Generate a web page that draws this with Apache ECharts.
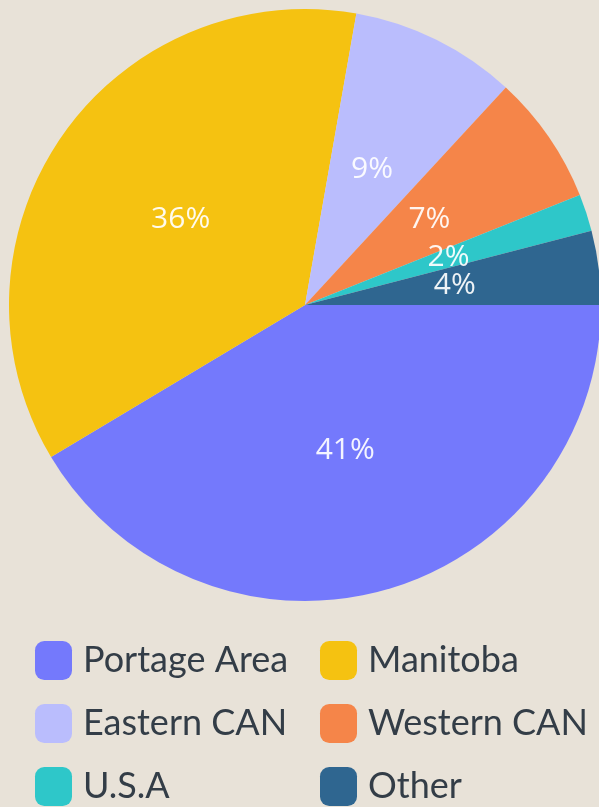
<!DOCTYPE html>
<html>
<head>
<meta charset="utf-8">
<style>
  html, body { margin: 0; padding: 0; background: #e8e2d8; }
  #chart { width: 599px; height: 807px; }
</style>
<script src="https://cdn.jsdelivr.net/npm/echarts@6/dist/echarts.min.js"></script>
</head>
<body>
<div id="chart"></div>
<script>
// 各地区占比
var regions = ['Portage Area', 'Manitoba', 'Eastern CAN', 'Western CAN', 'U.S.A', 'Other'];
var shares = [41, 36, 9, 7, 2, 4];
var colors = ['#7479fc', '#f5c211', '#babdfd', '#f58549', '#2ec7c9', '#2f6690'];

var pieData = regions.map(function (name, idx) {
  return { name: name, value: shares[idx] };
});

var chart = echarts.init(document.getElementById('chart'));

var legendText = {
  fontFamily: 'Lato',
  fontSize: 36,
  color: '#333d47',
  padding: [0, 0, 0, 6]
};

function makeLegend(left, names) {
  return {
    orient: 'vertical',
    left: left,
    top: 641,
    height: 300,
    padding: 0,
    itemWidth: 37,
    itemHeight: 39,
    itemGap: 24,
    icon: 'roundRect',
    data: names,
    textStyle: legendText
  };
}

var option = {
  backgroundColor: '#e8e2d8',
  color: colors,
  animation: false,
  legend: [
    makeLegend(35, [regions[0], regions[2], regions[4]]),
    makeLegend(320, [regions[1], regions[3], regions[5]])
  ],
  series: [
    {
      type: 'pie',
      center: [305, 305],
      radius: 296,
      startAngle: 0,
      clockwise: true,
      label: {
        show: true,
        position: 'inside',
        formatter: '{c}%',
        color: 'rgba(255,255,255,0.92)',
        fontFamily: 'Open Sans',
        fontSize: 30
      },
      labelLayout: { hideOverlap: false },
      labelLine: { show: false },
      data: pieData
    }
  ]
};

chart.setOption(option);
</script>
</body>
</html>
